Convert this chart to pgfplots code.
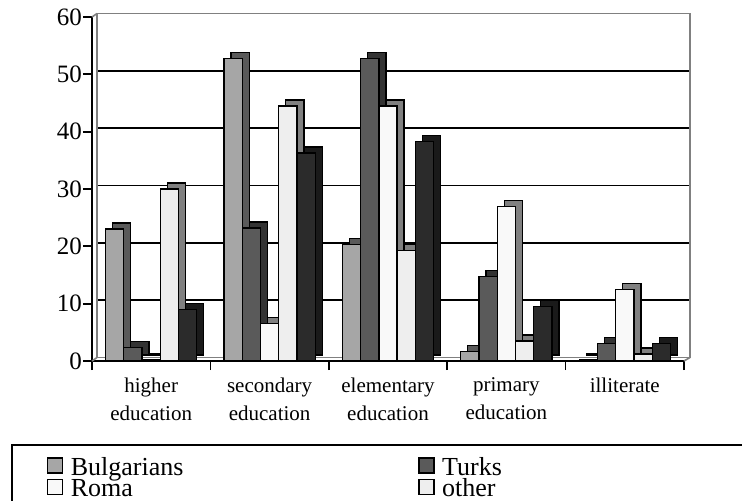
\documentclass[border=0pt]{standalone}
\usepackage{fontspec}
\setmainfont{Liberation Serif}
\usepackage{pgfplots}
\usepackage{pgfplotstable}
\pgfplotsset{compat=1.18}

% front face / side face colours
\definecolor{cBg}{HTML}{A6A6A6}\definecolor{sBg}{HTML}{5A5A5A}
\definecolor{cTr}{HTML}{5A5A5A}\definecolor{sTr}{HTML}{333333}
\definecolor{cRo}{HTML}{F9F9F9}\definecolor{sRo}{HTML}{808080}
\definecolor{cOt}{HTML}{EEEEEE}\definecolor{sOt}{HTML}{808080}
\definecolor{cXx}{HTML}{2B2B2B}\definecolor{sXx}{HTML}{1A1A1A}
\definecolor{wallgray}{HTML}{808080}

\pgfplotstableread{
cat  bg    tr    ro    ot    xx
0    23.0  2.4   0.3   30.0  9.0
1    52.8  23.2  6.5   44.5  36.3
2    20.3  52.8  44.5  19.3  38.3
3    1.7   14.7  27.0  3.5   9.5
4    0.3   3.1   12.5  1.2   3.1
}\edu

\pgfplotsset{
  bars/.style={ybar, bar width=0.154, draw=black, line width=1.3bp},
  back/.style={bars, xshift=7bp, yshift=6bp, forget plot},
  sq/.style={legend image code/.code={%
    \draw[##1, draw=black, line width=1.3bp] (0bp,-6bp) rectangle (15bp,9bp);
    \path[draw=none, fill=none] (0bp,-1bp) rectangle (21bp,1bp);}},
}
\tikzset{wall/.style={draw=wallgray, line width=1.6bp}}

\begin{document}
\begin{tikzpicture}
\begin{axis}[
  at={(0,0)}, anchor=south west,
  scale only axis, width=592bp, height=344bp,
  xmin=-0.5, xmax=4.5, ymin=0, ymax=60,
  clip=false,
  axis x line*=bottom, axis y line*=left,
  axis line style={black, line width=1.7bp, -},
  xtick={-0.5,0.5,...,4.5},
  x tick label as interval,
  xticklabels={{higher\\education},{secondary\\education},{elementary\\education},{primary\\education},{illiterate}},
  ytick={0,10,...,60},
  tick align=outside,
  major tick length=9bp,
  tick style={black, line width=1.7bp},
  x tick label style={align=center, font=\fontsize{21bp}{28bp}\selectfont, yshift=-4bp},
  y tick label style={font=\fontsize{25bp}{25bp}\selectfont, inner sep=1bp},
  /pgf/number format/assume math mode=true,
  extra y ticks={10,20,30,40,50},
  extra y tick labels={},
  extra y tick style={grid=major, major tick length=0pt},
  major grid style={black, line width=1.8bp, xshift=5bp, yshift=3.5bp},
  legend columns=2,
  legend cell align=left,
  legend style={at={(axis description cs:0,0)}, anchor=north west,
    xshift=-45bp, yshift=-94bp, draw=none, fill=none, inner sep=0pt,
    font=\fontsize{26bp}{26bp}\selectfont, row sep=-2bp,
    /tikz/column 2/.style={column sep=233bp}},
]
% back wall and floor outline
\draw[wall] ([shift={(5bp,3.5bp)}]rel axis cs:0,0) -- ([shift={(5bp,3.5bp)}]rel axis cs:0,1)
  -- ([shift={(6bp,3.5bp)}]rel axis cs:1,1) -- ([shift={(6bp,3.5bp)}]rel axis cs:1,0) -- cycle;
\draw[wall] (rel axis cs:0,1) -- ([shift={(5bp,3.5bp)}]rel axis cs:0,1);
\draw[wall] (rel axis cs:0,0) -- ([shift={(5bp,3.5bp)}]rel axis cs:0,0);
\draw[wall] (rel axis cs:1,0) -- ([shift={(6bp,3.5bp)}]rel axis cs:1,0);

\addplot[back, fill=sBg, bar shift=-0.308] table[x=cat, y=bg]{\edu};
\addplot[bars, fill=cBg, bar shift=-0.308, sq] table[x=cat, y=bg]{\edu};
\addlegendentry{Bulgarians}
\addplot[back, fill=sTr, bar shift=-0.154] table[x=cat, y=tr]{\edu};
\addplot[bars, fill=cTr, bar shift=-0.154, sq] table[x=cat, y=tr]{\edu};
\addlegendentry{Turks}
\addplot[back, fill=sRo, bar shift=0] table[x=cat, y=ro]{\edu};
\addplot[bars, fill=cRo, bar shift=0, sq] table[x=cat, y=ro]{\edu};
\addlegendentry{Roma}
\addplot[back, fill=sOt, bar shift=0.154] table[x=cat, y=ot]{\edu};
\addplot[bars, fill=cOt, bar shift=0.154, sq] table[x=cat, y=ot]{\edu};
\addlegendentry{other}
\addplot[back, fill=sXx, bar shift=0.308] table[x=cat, y=xx]{\edu};
\addplot[bars, fill=cXx, bar shift=0.308, forget plot] table[x=cat, y=xx]{\edu};

% legend frame, cut by the page edge as in the source
\draw[black, line width=1.6bp] ([xshift=-80bp, yshift=-84bp]axis description cs:0,0) rectangle ++(800bp,-200bp);
\end{axis}
\pgfresetboundingbox
\useasboundingbox (-92bp,-140bp) rectangle (650bp,361bp);
\end{tikzpicture}
\end{document}
